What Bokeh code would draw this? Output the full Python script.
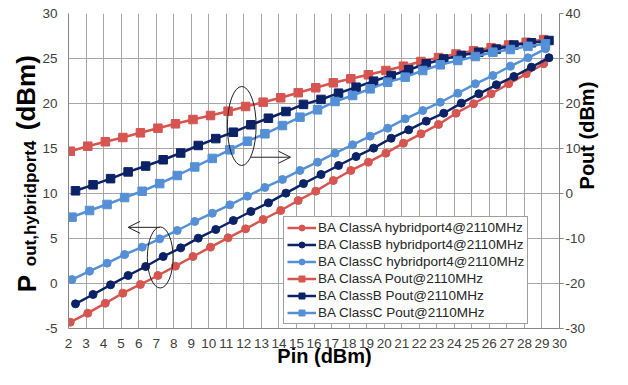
from math import pi
from bokeh.plotting import figure
from bokeh.models import (Range1d, LinearAxis, FixedTicker, Legend, LegendItem,
                          Arrow, OpenHead)
from bokeh.embed import file_html
from bokeh.resources import INLINE

# ---------------- data ----------------
pin_a = [2.1, 3.1, 4.1, 5.1, 6.1, 7.1, 8.1, 9.1, 10.1, 11.1, 12.1, 13.1, 14.1, 15.1,
         16.1, 17.1, 18.1, 19.1, 20.1, 21.1, 22.1, 23.1, 24.1, 25.1, 26.1, 27.1, 28.1, 29.1]
pin_b = [2.4, 3.4, 4.4, 5.4, 6.4, 7.4, 8.4, 9.4, 10.4, 11.4, 12.4, 13.4, 14.4, 15.4,
         16.4, 17.4, 18.4, 19.4, 20.4, 21.4, 22.4, 23.4, 24.4, 25.4, 26.4, 27.4, 28.4, 29.4]
pin_c = [2.2, 3.2, 4.2, 5.2, 6.2, 7.2, 8.2, 9.2, 10.2, 11.2, 12.2, 13.2, 14.2, 15.2,
         16.2, 17.2, 18.2, 19.2, 20.2, 21.2, 22.2, 23.2, 24.2, 25.2, 26.2, 27.2, 28.2, 29.2]

hyb_a = [-4.30, -3.30, -2.19, -1.07, -0.11, 0.89, 1.93, 3.00, 4.04, 5.07, 6.07, 7.11, 8.11, 9.22,
         10.26, 11.44, 12.56, 13.48, 14.48, 15.59, 16.63, 17.67, 18.92, 19.97, 21.08, 22.19, 23.30, 24.41]
hyb_b = [-2.26, -1.22, -0.15, 0.89, 1.89, 3.00, 3.96, 5.04, 6.00, 7.00, 8.00, 8.96, 10.04, 11.10,
         12.11, 13.11, 14.11, 15.04, 16.14, 17.07, 18.04, 18.92, 20.04, 21.08, 22.08, 23.00, 24.04, 25.08]
hyb_c = [0.44, 1.37, 2.26, 3.22, 4.04, 4.96, 5.89, 6.89, 7.81, 8.74, 9.70, 10.67, 11.56, 12.56,
         13.48, 14.48, 15.41, 16.37, 17.26, 18.30, 19.22, 20.14, 21.14, 22.19, 23.11, 24.15, 25.08, 26.08]

pout_a = [9.40, 10.51, 11.49, 12.44, 13.49, 14.51, 15.49, 16.44, 17.33, 18.29, 19.33, 20.29, 21.27, 22.40,
          23.50, 24.60, 25.49, 26.38, 27.33, 28.29, 29.33, 30.20, 31.00, 31.70, 32.40, 33.00, 33.60, 34.20]
pout_b = [0.60, 1.93, 3.30, 4.80, 6.10, 7.50, 9.00, 10.67, 12.20, 13.62, 15.27, 16.73, 18.22, 19.80,
          20.90, 22.30, 23.62, 24.96, 26.22, 27.49, 28.82, 29.90, 30.70, 31.40, 32.10, 33.00, 33.50, 34.00]
pout_c = [-5.26, -3.78, -2.44, -0.90, 0.50, 2.20, 4.00, 5.90, 7.80, 9.70, 11.62, 13.27, 15.10, 16.96,
          18.60, 20.44, 21.78, 23.26, 24.74, 25.85, 27.33, 28.60, 29.56, 30.44, 31.40, 32.00, 32.70, 33.26]

x_ticks = list(range(2, 31))
left_ticks = [-5, 0, 5, 10, 15, 20, 25, 30]
right_ticks = [-30, -20, -10, 0, 10, 20, 30, 40]
# negative tick labels with a plain hyphen, as in the reference
left_neg_labels = {-5: "-5"}
right_neg_labels = {-30: "-30", -20: "-20", -10: "-10"}

labels = ["BA ClassA hybridport4@2110MHz", "BA ClassB hybridport4@2110MHz",
          "BA ClassC hybridport4@2110MHz", "BA ClassA Pout@2110MHz",
          "BA ClassB Pout@2110MHz", "BA ClassC Pout@2110MHz"]

# axis titles (split so the subscript can be smaller)
left_title_main = {0: "P", 21.2: "(dBm)"}
left_title_sub = {8.9: "out,hybridport4"}
right_title = {0.9: "Pout (dBm)"}
bottom_title = {16.6: "Pin (dBm)"}

RED = "#D65550"
NAVY = "#0B2266"
LBLUE = "#5590D6"
FONT = "Liberation Sans"
GRID = "#A6A6A6"
AXC = "#868686"

# ---------------- figure ----------------
p = figure(width=612, height=369, x_range=Range1d(2, 30), y_range=Range1d(-5, 30),
           output_backend="svg", toolbar_location=None, title=None,
           min_border_left=68, min_border_right=49, min_border_top=13, min_border_bottom=41)
p.outline_line_color = None
p.extra_y_ranges = {"pout": Range1d(-30, 40)}

left = p.yaxis[0]
left.ticker = FixedTicker(ticks=left_ticks)
left.major_label_overrides = left_neg_labels
left.major_tick_out = 0
left.major_tick_in = 0
left.major_label_standoff = 11

bottom = p.xaxis[0]
bottom.ticker = FixedTicker(ticks=x_ticks)
bottom.major_tick_out = 0
bottom.major_tick_in = 0
bottom.major_label_standoff = 10

right = LinearAxis(y_range_name="pout", ticker=FixedTicker(ticks=right_ticks),
                   major_label_overrides=right_neg_labels)
right.major_tick_out = 4
right.major_tick_in = 0
right.major_label_standoff = 2
p.add_layout(right, "right")

for ax in (left, bottom, right):
    ax.axis_line_color = AXC
    ax.major_tick_line_color = AXC
    ax.minor_tick_line_color = None
    ax.major_label_text_font = FONT
    ax.major_label_text_font_size = "13.5px"
    ax.major_label_text_color = "#404040"


def title_axis(overrides, size, standoff, orientation, rng="default"):
    kw = dict(ticker=FixedTicker(ticks=list(overrides.keys())),
              major_label_overrides=overrides,
              major_label_orientation=orientation,
              major_label_standoff=standoff,
              major_label_text_font=FONT,
              major_label_text_font_size=size,
              major_label_text_font_style="bold",
              major_label_text_color="black",
              axis_line_color=None, major_tick_line_color=None,
              minor_tick_line_color=None, major_tick_out=0, major_tick_in=0)
    if rng != "default":
        kw["y_range_name"] = rng
    return LinearAxis(**kw)


p.add_layout(title_axis(left_title_sub, "17px", -1, "vertical"), "left")
p.add_layout(title_axis(left_title_main, "26px", -23, "vertical"), "left")
p.add_layout(title_axis(right_title, "20px", -1, pi / 2, "pout"), "right")
p.add_layout(title_axis(bottom_title, "20px", -6, "horizontal"), "below")

p.xgrid.grid_line_color = GRID
p.ygrid.grid_line_color = GRID

# ---------------- series ----------------
series = [
    (pin_a, hyb_a, RED, "circle", "default"),
    (pin_b, hyb_b, NAVY, "circle", "default"),
    (pin_c, hyb_c, LBLUE, "circle", "default"),
    (pin_a, pout_a, RED, "square", "pout"),
    (pin_b, pout_b, NAVY, "square", "pout"),
    (pin_c, pout_c, LBLUE, "square", "pout"),
]
items = []
for (xs, ys, col, mk, rng), lab in zip(series, labels):
    lr = p.line(xs, ys, line_color=col, line_width=2.5, y_range_name=rng)
    sr = p.scatter(xs, ys, marker=mk, size=8.5 if mk == "square" else 8,
                   fill_color=col, line_color=col, y_range_name=rng)
    items.append(LegendItem(label=lab, renderers=[lr, sr]))

legend = Legend(items=items, location=(215, 4), orientation="vertical",
                label_text_font=FONT, label_text_font_size="13.5px", label_text_color="#262626",
                glyph_width=29, glyph_height=15, label_height=15, label_standoff=2,
                spacing=2, padding=3, margin=0,
                border_line_color="#404040", border_line_width=1,
                background_fill_color="white", background_fill_alpha=1)
p.add_layout(legend)

# ---------------- annotations (ellipses + arrows) ----------------
p.ellipse(x=[11.88, 7.23], y=[17.5, 2.89], width=[1.64, 1.47], height=[8.78, 6.78],
          fill_color=None, line_color="#202020", line_width=1)
p.add_layout(Arrow(x_start=12.4, y_start=14.03, x_end=14.66, y_end=14.03,
                   line_color="#202020", line_width=1,
                   end=OpenHead(size=12, line_width=1, line_color="#202020")))
p.add_layout(Arrow(x_start=7.2, y_start=6.24, x_end=5.4, y_end=6.24,
                   line_color="#202020", line_width=1,
                   end=OpenHead(size=12, line_width=1, line_color="#202020")))

open("out.html", "w").write(file_html(p, INLINE))
